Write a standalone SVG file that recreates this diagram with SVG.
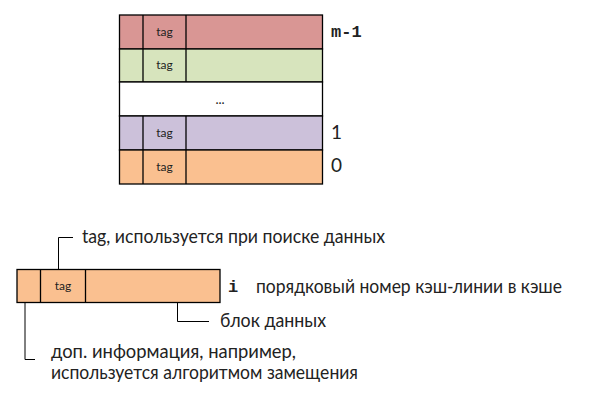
<svg xmlns="http://www.w3.org/2000/svg" width="595" height="404" viewBox="0 0 595 404">
<style>
.cell{stroke:#000;stroke-width:1.3}
.t{font-family:Lato,"Liberation Sans",sans-serif;font-size:19px;fill:#222}
.tag{font-family:Lato,"Liberation Sans",sans-serif;font-size:12px;fill:#222;text-anchor:middle}
.m{font-family:"Liberation Mono",monospace;font-size:17px;font-weight:bold;fill:#222}
.n{font-family:Lato,"Liberation Sans",sans-serif;font-size:19px;fill:#222}
.c{fill:none;stroke:#000;stroke-width:1}
</style>
<rect width="595" height="404" fill="#fff"/>
<g id="cache">
  <g id="row-m1">
    <rect class="cell" x="119.5" y="15" width="203" height="34" fill="#d99694"/>
    <line class="cell" x1="143" y1="15" x2="143" y2="49"/>
    <line class="cell" x1="186" y1="15" x2="186" y2="49"/>
    <text class="tag" x="164.5" y="36">tag</text>
  </g>
  <g id="row-m2">
    <rect class="cell" x="119.5" y="49" width="203" height="33" fill="#d7e4bd"/>
    <line class="cell" x1="143" y1="49" x2="143" y2="82"/>
    <line class="cell" x1="186" y1="49" x2="186" y2="82"/>
    <text class="tag" x="164.5" y="69">tag</text>
  </g>
  <g id="row-dots">
    <rect class="cell" x="119.5" y="82" width="203" height="34" fill="#fff"/>
    <text class="tag" x="220" y="104" style="font-size:13px">...</text>
  </g>
  <g id="row-1">
    <rect class="cell" x="119.5" y="116" width="203" height="34" fill="#ccc1da"/>
    <line class="cell" x1="143" y1="116" x2="143" y2="150"/>
    <line class="cell" x1="186" y1="116" x2="186" y2="150"/>
    <text class="tag" x="164.5" y="137">tag</text>
  </g>
  <g id="row-0">
    <rect class="cell" x="119.5" y="150" width="203" height="34" fill="#fac090"/>
    <line class="cell" x1="143" y1="150" x2="143" y2="184"/>
    <line class="cell" x1="186" y1="150" x2="186" y2="184"/>
    <text class="tag" x="164.5" y="171">tag</text>
  </g>
  <text class="m" x="331" y="37">m-1</text>
  <text class="n" x="331" y="139">1</text>
  <text class="n" x="331" y="172">0</text>
</g>
<g id="line-i">
  <rect class="cell" x="17" y="269.5" width="203" height="33" fill="#fac090"/>
  <line class="cell" x1="40.5" y1="269.5" x2="40.5" y2="302.5"/>
  <line class="cell" x1="85.5" y1="269.5" x2="85.5" y2="302.5"/>
  <text class="tag" x="63" y="290">tag</text>
  <text class="m" x="228" y="292">i</text>
</g>
<g id="connectors">
  <polyline class="c" points="58.5,269.5 58.5,237.5 73,237.5"/>
  <polyline class="c" points="177.5,302.5 177.5,321.5 209,321.5"/>
  <polyline class="c" points="25,302.5 25,359.5 35,359.5"/>
</g>
<g id="labels">
  <text class="t" x="82" y="243" textLength="303" lengthAdjust="spacingAndGlyphs">tag, используется при поиске данных</text>
  <text class="t" x="256" y="293" textLength="306" lengthAdjust="spacingAndGlyphs">порядковый номер кэш-линии в кэше</text>
  <text class="t" x="220" y="327" textLength="106" lengthAdjust="spacingAndGlyphs">блок данных</text>
  <text class="t" x="51" y="357.5" textLength="245" lengthAdjust="spacingAndGlyphs">доп. информация, например,</text>
  <text class="t" x="51" y="378.5" textLength="307" lengthAdjust="spacingAndGlyphs">используется алгоритмом замещения</text>
</g>
</svg>
